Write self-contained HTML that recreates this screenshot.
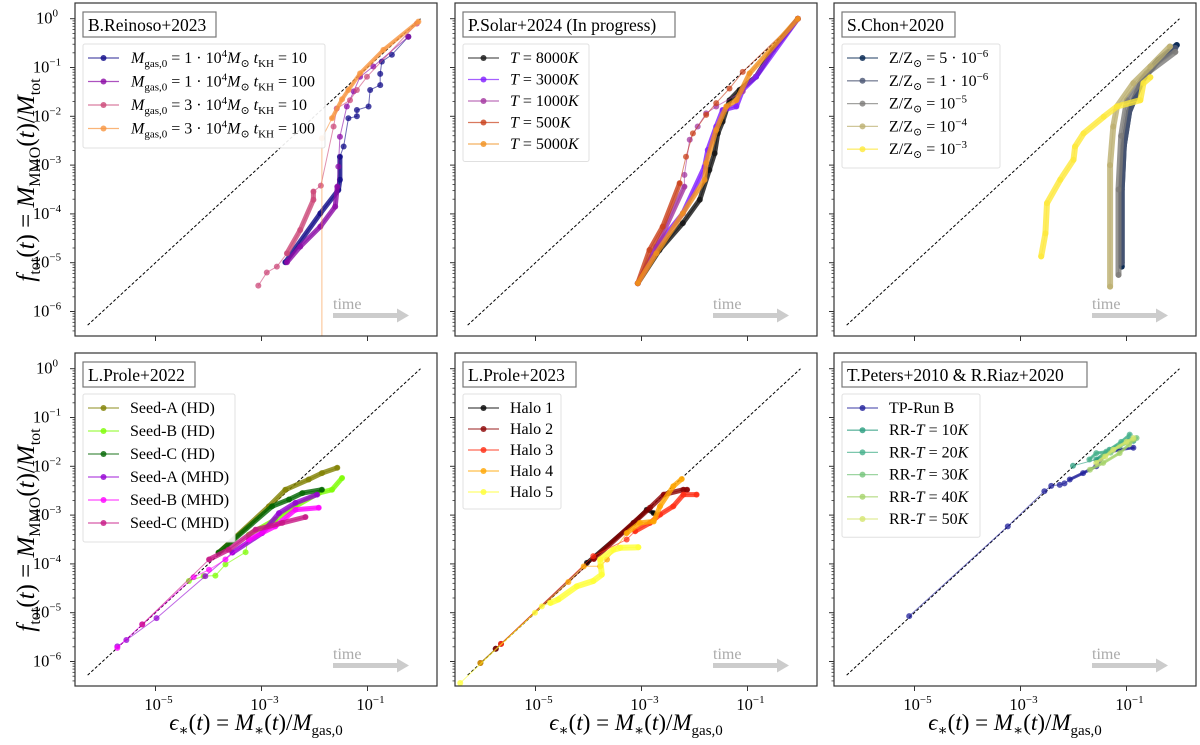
<!DOCTYPE html>
<html><head><meta charset="utf-8">
<style>
body{margin:0;background:#fff;}
svg{display:block;font-family:"Liberation Serif","DejaVu Serif",serif;}
</style></head>
<body>
<svg id="fig" width="1200" height="745" viewBox="0 0 1200 745" xmlns="http://www.w3.org/2000/svg">
<defs>
<clipPath id="c0"><rect x="75" y="3" width="362" height="333"/></clipPath>
<clipPath id="c1"><rect x="455" y="3" width="362" height="333"/></clipPath>
<clipPath id="c2"><rect x="834" y="3" width="362" height="333"/></clipPath>
<clipPath id="c3"><rect x="75" y="353" width="362" height="333"/></clipPath>
<clipPath id="c4"><rect x="455" y="353" width="362" height="333"/></clipPath>
<clipPath id="c5"><rect x="834" y="353" width="362" height="333"/></clipPath>
</defs>
</svg>
<script>
// ---- data (log10 values) ----
// Panel 1: B.Reinoso+2023
const p1s1x = [-2.55,-1.89,-1.55,-1.52,-1.52,-1.45,-1.36,-1.2,-1.2,-0.98,-0.95,-0.76,-0.76,-0.73,-0.54,-0.23];
const p1s1y = [-4.99,-3.99,-3.51,-3.30,-2.83,-2.62,-2.04,-2.0,-1.87,-1.80,-1.46,-1.36,-1.13,-0.88,-0.74,-0.37];
const p1s2x = [-2.52,-2.27,-1.89,-1.61,-1.57,-1.55,-1.52,-1.39,-1.26,-1.14,-0.89,-0.23];
const p1s2y = [-4.99,-4.67,-4.26,-3.85,-3.44,-3.03,-2.42,-1.80,-1.49,-1.19,-0.98,-0.37];
const p1s3x = [-3.06,-2.90,-2.71,-2.52,-2.27,-2.02,-2.02,-1.88,-1.64,-1.58,-1.33,-1.20,-1.01,-0.07];
const p1s3y = [-5.47,-5.20,-5.08,-4.81,-4.33,-3.71,-3.54,-3.42,-2.21,-1.84,-1.67,-1.46,-1.19,-0.10];
const p1s4x = [-1.86,-1.86,-1.67,-1.48,-1.36,-1.14,-0.70,-0.04];
const p1s4y = [-7.5,-2.45,-2.04,-1.65,-1.46,-1.12,-0.64,-0.06];
// Panel 2: P.Solar+2024
const p2s1x = [-3.07,-2.66,-2.22,-1.90,-1.72,-1.62,-1.56,-1.47,-1.34,-1.15,-0.84,-0.52,-0.05];
const p2s1y = [-5.42,-4.74,-4.19,-3.71,-3.10,-2.76,-2.35,-2.11,-1.67,-1.46,-1.19,-0.64,0];
const p2s2x = [-3.07,-2.72,-2.22,-1.81,-1.75,-1.59,-1.47,-1.21,-1.09,-0.84,-0.05];
const p2s2y = [-5.42,-4.67,-3.99,-3.03,-2.69,-2.21,-1.87,-1.80,-1.46,-1.19,0];
const p2s3x = [-3.07,-2.80,-2.19,-2.19,-2.09,-1.94,-1.78,-1.59,-1.09,-0.05];
const p2s3y = [-5.42,-4.88,-3.44,-3.20,-2.48,-2.21,-1.94,-1.80,-1.49,0];
const p2s4x = [-3.07,-2.85,-2.60,-2.28,-2.16,-2.03,-1.78,-1.59,-1.34,-1.09,-0.05];
const p2s4y = [-5.42,-4.74,-4.26,-3.37,-2.83,-2.35,-1.97,-1.73,-1.43,-1.09,0];
const p2s5x = [-3.07,-2.72,-2.22,-1.81,-1.78,-1.59,-1.40,-1.21,-0.96,-0.05];
const p2s5y = [-5.42,-4.81,-3.99,-3.30,-2.96,-2.28,-1.80,-1.67,-1.12,0];
// Panel 3: S.Chon+2020
const p3s1x = [-1.09,-1.09,-1.05,-0.95,-0.70,-0.40,-0.05];
const p3s1y = [-5.08,-3.50,-2.60,-1.90,-1.25,-0.85,-0.54];
const p3s2x = [-1.09,-1.09,-1.05,-0.95,-0.70,-0.40,-0.08];
const p3s2y = [-5.00,-3.50,-2.60,-1.90,-1.25,-0.85,-0.60];
const p3s3x = [-1.15,-1.15,-1.10,-0.99,-0.62,-0.08];
const p3s3y = [-5.25,-3.50,-2.40,-1.67,-1.12,-0.68];
const p3s4x = [-1.31,-1.31,-1.25,-1.18,-0.87,-0.55,-0.18];
const p3s4y = [-5.49,-3.00,-2.21,-1.80,-1.32,-0.98,-0.57];
const p3s5x = [-2.61,-2.53,-2.50,-2.25,-2.00,-1.97,-1.81,-1.43,-1.18,-0.74,-0.68,-0.55];
const p3s5y = [-4.87,-4.40,-3.78,-3.30,-2.89,-2.62,-2.35,-2.01,-1.80,-1.67,-1.32,-1.20];
// Panel 4: L.Prole+2022
const p4s1x = [-3.81,-2.86,-2.55,-2.11,-1.86,-1.57];
const p4s1y = [-3.77,-2.82,-2.48,-2.27,-2.14,-2.03];
const p4s2x = [-4.37,-4.09,-3.87,-3.68,-3.30,-3.24,-2.74,-2.36,-1.92,-1.67,-1.48];
const p4s2y = [-4.35,-4.25,-4.24,-4.01,-3.76,-3.40,-3.09,-2.82,-2.55,-2.48,-2.24];
const p4s3x = [-3.81,-2.80,-2.48,-2.23,-1.86];
const p4s3y = [-3.77,-2.82,-2.68,-2.55,-2.48];
const p4s4x = [-5.72,-5.55,-4.98,-4.06,-3.55,-2.99,-2.67,-2.36,-1.95];
const p4s4y = [-5.69,-5.56,-5.11,-4.25,-3.77,-3.37,-2.96,-2.75,-2.58];
const p4s5x = [-5.72,-5.25,-4.28,-3.99,-3.68,-3.24,-2.74,-2.36,-1.92];
const p4s5y = [-5.72,-5.24,-4.27,-4.12,-3.91,-3.50,-3.23,-2.89,-2.85];
const p4s6x = [-5.25,-3.99,-3.62,-3.11,-2.61,-2.17];
const p4s6y = [-5.24,-3.91,-3.71,-3.30,-3.16,-3.04];
// Panel 5: L.Prole+2023
const p5s1x = [-6.04,-5.75,-4.03,-3.15,-2.90,-2.77];
const p5s1y = [-6.03,-5.74,-3.98,-3.16,-2.89,-2.96];
const p5s2x = [-5.75,-5.65,-3.90,-2.84,-2.58,-2.21,-2.14];
const p5s2y = [-5.74,-5.64,-3.90,-2.85,-2.58,-2.48,-2.48];
const p5s3x = [-5.65,-3.91,-3.28,-3.12,-2.84,-2.65,-2.40,-2.21,-1.96];
const p5s3y = [-5.64,-3.84,-3.50,-3.33,-3.16,-2.99,-2.82,-2.58,-2.58];
const p5s4x = [-6.04,-4.38,-4.09,-3.78,-3.65,-3.28,-3.03,-2.77,-2.65,-2.40,-2.24];
const p5s4y = [-6.03,-4.37,-4.05,-4.05,-3.91,-3.37,-3.16,-3.13,-2.82,-2.41,-2.26];
const p5s5x = [-6.42,-5.01,-4.88,-4.72,-4.57,-4.22,-3.91,-3.75,-3.78,-3.53,-3.40,-3.06];
const p5s5y = [-6.44,-5.00,-4.87,-4.80,-4.73,-4.46,-4.35,-4.22,-3.91,-3.71,-3.67,-3.66];
// Panel 6: T.Peters+2010 & R.Riaz+2020
const p6s1x = [-5.10,-3.24,-2.55,-2.42,-2.26,-2.17,-2.07,-1.82,-1.57,-1.38,-1.13,-0.87];
const p6s1y = [-5.07,-3.23,-2.51,-2.40,-2.38,-2.35,-2.27,-2.14,-2.00,-1.73,-1.66,-1.62];
const p6s2x = [-2.01,-1.57,-1.32,-0.94,-0.87];
const p6s2y = [-1.99,-1.86,-1.66,-1.45,-1.48];
const p6s3x = [-1.70,-1.57,-1.38,-1.10,-0.94];
const p6s3y = [-1.86,-1.73,-1.70,-1.50,-1.35];
const p6s4x = [-1.44,-1.30,-1.13,-0.95,-0.81];
const p6s4y = [-1.80,-1.72,-1.59,-1.50,-1.42];
const p6s5x = [-1.69,-1.44,-1.13,-0.95,-0.87];
const p6s5y = [-2.07,-1.93,-1.73,-1.55,-1.45];
const p6s6x = [-1.57,-1.40,-1.25,-1.00,-0.87];
const p6s6y = [-1.93,-1.80,-1.66,-1.50,-1.42];
// axis ticks
const yTickExps = [0,-1,-2,-3,-4,-5,-6];
const xTickExps = [-5,-3,-1];

const NS="http://www.w3.org/2000/svg";
const svg=document.getElementById('fig');
const lefts=[75,455,834], tops=[3,353], W=362, H=333;
function mk(tag,attrs,parent){const e=document.createElementNS(NS,tag);for(const k in attrs)e.setAttribute(k,attrs[k]);(parent||svg).appendChild(e);return e;}
function xs(p,lx){return lefts[p%3]+80.5+(lx+5)*53;}
function ys(p,ly){return tops[Math.floor(p/3)]+15.7-ly*48.8;}

// style: c colour, w thick width, a/b = index range drawn thick
const panels=[
 {title:"B.Reinoso+2023",tw:133,series:[
  {x:p1s1x,y:p1s1y,c:"#0d0887",w:5,a:0,b:4,name:"mgas1e4-tkh10"},
  {x:p1s2x,y:p1s2y,c:"#8b0aa5",w:5,a:0,b:4,name:"mgas1e4-tkh100"},
  {x:p1s3x,y:p1s3y,c:"#cc4778",w:5,a:3,b:6,name:"mgas3e4-tkh10"},
  {x:p1s4x,y:p1s4y,c:"#f89540",w:4,a:2,b:7,name:"mgas3e4-tkh100"}]},
 {title:"P.Solar+2024 (In progress)",tw:212,series:[
  {x:p2s1x,y:p2s1y,c:"#111111",w:5,a:0,b:99,name:"t8000k"},
  {x:p2s2x,y:p2s2y,c:"#7f1cff",w:5,a:0,b:99,name:"t3000k"},
  {x:p2s3x,y:p2s3y,c:"#a3359f",w:5,a:0,b:2,name:"t1000k"},
  {x:p2s4x,y:p2s4y,c:"#c9401a",w:5,a:0,b:3,name:"t500k"},
  {x:p2s5x,y:p2s5y,c:"#f0901e",w:5,a:0,b:99,name:"t5000k"}]},
 {title:"S.Chon+2020",tw:113,series:[
  {x:p3s1x,y:p3s1y,c:"#00224e",w:6,a:0,b:99,name:"z5e-6"},
  {x:p3s2x,y:p3s2y,c:"#4a5573",w:6,a:0,b:99,name:"z1e-6"},
  {x:p3s3x,y:p3s3y,c:"#7c7b78",w:6,a:0,b:99,name:"z1e-5"},
  {x:p3s4x,y:p3s4y,c:"#bcaf6f",w:6,a:0,b:99,name:"z1e-4"},
  {x:p3s5x,y:p3s5y,c:"#fee838",w:6,a:0,b:99,name:"z1e-3"}]},
 {title:"L.Prole+2022",tw:112,series:[
  {x:p4s1x,y:p4s1y,c:"#808000",w:5,a:0,b:99,name:"seed-a-hd"},
  {x:p4s2x,y:p4s2y,c:"#7cfc00",w:5,a:5,b:99,name:"seed-b-hd"},
  {x:p4s3x,y:p4s3y,c:"#006400",w:5,a:0,b:99,name:"seed-c-hd"},
  {x:p4s4x,y:p4s4y,c:"#9400d3",w:5,a:4,b:99,name:"seed-a-mhd"},
  {x:p4s5x,y:p4s5y,c:"#ff00ff",w:5,a:5,b:99,name:"seed-b-mhd"},
  {x:p4s6x,y:p4s6y,c:"#c71585",w:5,a:1,b:99,name:"seed-c-mhd"}]},
 {title:"L.Prole+2023",tw:113,series:[
  {x:p5s1x,y:p5s1y,c:"#000000",w:4,a:2,b:99,name:"halo-1"},
  {x:p5s2x,y:p5s2y,c:"#8b0000",w:5,a:2,b:99,name:"halo-2"},
  {x:p5s3x,y:p5s3y,c:"#ff2a10",w:5,a:3,b:99,name:"halo-3"},
  {x:p5s4x,y:p5s4y,c:"#ffa500",w:5,a:5,b:99,name:"halo-4"},
  {x:p5s5x,y:p5s5y,c:"#ffff33",w:6,a:3,b:99,name:"halo-5"}]},
 {title:"T.Peters+2010 & R.Riaz+2020",tw:245,series:[
  {x:p6s1x,y:p6s1y,c:"#1f1f9a",w:3,a:6,b:99,name:"tp-run-b"},
  {x:p6s2x,y:p6s2y,c:"#2a9d7f",w:3,a:1,b:99,name:"rr-10k"},
  {x:p6s3x,y:p6s3y,c:"#45b08b",w:3,a:0,b:99,name:"rr-20k"},
  {x:p6s4x,y:p6s4y,c:"#74c47a",w:3,a:0,b:99,name:"rr-30k"},
  {x:p6s5x,y:p6s5y,c:"#a5d36a",w:3,a:0,b:99,name:"rr-40k"},
  {x:p6s6x,y:p6s6y,c:"#d4e56e",w:3,a:0,b:99,name:"rr-50k"}]}
];

const legendLabels=[
 ['<tspan font-style="italic">M</tspan><tspan font-size="11" dy="4">gas,0</tspan><tspan dy="-4"> = 1 · 10</tspan><tspan font-size="11" dy="-6">4</tspan><tspan dy="6" font-style="italic">M</tspan><tspan font-size="11" dy="4">⊙</tspan><tspan dy="-4" font-style="italic"> t</tspan><tspan font-size="11" dy="4">KH</tspan><tspan dy="-4"> = 10</tspan>',
  '<tspan font-style="italic">M</tspan><tspan font-size="11" dy="4">gas,0</tspan><tspan dy="-4"> = 1 · 10</tspan><tspan font-size="11" dy="-6">4</tspan><tspan dy="6" font-style="italic">M</tspan><tspan font-size="11" dy="4">⊙</tspan><tspan dy="-4" font-style="italic"> t</tspan><tspan font-size="11" dy="4">KH</tspan><tspan dy="-4"> = 100</tspan>',
  '<tspan font-style="italic">M</tspan><tspan font-size="11" dy="4">gas,0</tspan><tspan dy="-4"> = 3 · 10</tspan><tspan font-size="11" dy="-6">4</tspan><tspan dy="6" font-style="italic">M</tspan><tspan font-size="11" dy="4">⊙</tspan><tspan dy="-4" font-style="italic"> t</tspan><tspan font-size="11" dy="4">KH</tspan><tspan dy="-4"> = 10</tspan>',
  '<tspan font-style="italic">M</tspan><tspan font-size="11" dy="4">gas,0</tspan><tspan dy="-4"> = 3 · 10</tspan><tspan font-size="11" dy="-6">4</tspan><tspan dy="6" font-style="italic">M</tspan><tspan font-size="11" dy="4">⊙</tspan><tspan dy="-4" font-style="italic"> t</tspan><tspan font-size="11" dy="4">KH</tspan><tspan dy="-4"> = 100</tspan>'],
 ['<tspan font-style="italic">T</tspan> = 8000<tspan font-style="italic">K</tspan>','<tspan font-style="italic">T</tspan> = 3000<tspan font-style="italic">K</tspan>','<tspan font-style="italic">T</tspan> = 1000<tspan font-style="italic">K</tspan>','<tspan font-style="italic">T</tspan> = 500<tspan font-style="italic">K</tspan>','<tspan font-style="italic">T</tspan> = 5000<tspan font-style="italic">K</tspan>'],
 ['Z/Z<tspan font-size="11" dy="4">⊙</tspan><tspan dy="-4"> = 5 · 10</tspan><tspan font-size="11" dy="-6">−6</tspan>','Z/Z<tspan font-size="11" dy="4">⊙</tspan><tspan dy="-4"> = 1 · 10</tspan><tspan font-size="11" dy="-6">−6</tspan>','Z/Z<tspan font-size="11" dy="4">⊙</tspan><tspan dy="-4"> = 10</tspan><tspan font-size="11" dy="-6">−5</tspan>','Z/Z<tspan font-size="11" dy="4">⊙</tspan><tspan dy="-4"> = 10</tspan><tspan font-size="11" dy="-6">−4</tspan>','Z/Z<tspan font-size="11" dy="4">⊙</tspan><tspan dy="-4"> = 10</tspan><tspan font-size="11" dy="-6">−3</tspan>'],
 ['Seed-A (HD)','Seed-B (HD)','Seed-C (HD)','Seed-A (MHD)','Seed-B (MHD)','Seed-C (MHD)'],
 ['Halo 1','Halo 2','Halo 3','Halo 4','Halo 5'],
 ['TP-Run B','RR-<tspan font-style="italic">T</tspan> = 10<tspan font-style="italic">K</tspan>','RR-<tspan font-style="italic">T</tspan> = 20<tspan font-style="italic">K</tspan>','RR-<tspan font-style="italic">T</tspan> = 30<tspan font-style="italic">K</tspan>','RR-<tspan font-style="italic">T</tspan> = 40<tspan font-style="italic">K</tspan>','RR-<tspan font-style="italic">T</tspan> = 50<tspan font-style="italic">K</tspan>']
];
const legendW=[242,126,158,152,98,138];
const legendSp=[23.5,21.5,22.8,23,21,22.2];

panels.forEach((P,p)=>{
  const L=lefts[p%3], T=tops[Math.floor(p/3)];
  const g=mk('g',{});
  
  
  const d=mk('line',{x1:xs(p,-6.28),y1:ys(p,-6.28),x2:xs(p,0),y2:ys(p,0),stroke:'#000','stroke-width':1,'stroke-dasharray':'3,2'},g);
  
  
  const sg=mk('g',{'clip-path':'url(#c'+p+')'},g);
  P.series.forEach(s=>{
    const pt=s.x.map((v,i)=>xs(p,v).toFixed(1)+','+ys(p,s.y[i]).toFixed(1));
    const ser=mk('g',{},sg);
    
    
    const thick=pt.slice(s.a,Math.min(s.b,pt.length-1)+1);
    if(thick.length>1) mk('polyline',{points:thick.join(' '),fill:'none',stroke:s.c,'stroke-width':s.w,'stroke-linejoin':'round','stroke-linecap':'round',opacity:0.8},ser);
    mk('polyline',{points:pt.join(' '),fill:'none',stroke:s.c,'stroke-width':1,opacity:0.6},ser);
    s.x.forEach((v,i)=>{
      const c=mk('circle',{cx:xs(p,v),cy:ys(p,s.y[i]),r:3,fill:s.c,opacity:0.75},ser);
      
      
    });
  });
  const fr=mk('rect',{x:L,y:T,width:W,height:H,fill:'none',stroke:'#333','stroke-width':1.2},g);
  
  
  for(let e=0;e>=-7;e--){
    if(e<=0 && e>=-6){mk('line',{x1:L-5,x2:L,y1:ys(p,e),y2:ys(p,e),stroke:'#333','stroke-width':1},g);}
    for(let m=2;m<10;m++){const yy=ys(p,e-1+Math.log10(m));if(yy>T&&yy<T+H)mk('line',{x1:L-2.5,x2:L,y1:yy,y2:yy,stroke:'#333','stroke-width':0.8},g);}
  }
  xTickExps.forEach(e=>mk('line',{x1:xs(p,e),x2:xs(p,e),y1:T+H,y2:T+H+5,stroke:'#333','stroke-width':1},g));
  if(p%3===0){
    yTickExps.forEach(e=>{
      const t=mk('text',{x:L-28,y:ys(p,e)+5,'font-size':16.5,'text-anchor':'middle'},g);
      t.innerHTML='10<tspan font-size="11" dy="-7">'+(e===0?'0':'−'+(-e))+'</tspan>';
      
      
    });
  }
  if(p>=3){
    xTickExps.forEach(e=>{
      const t=mk('text',{x:xs(p,e)+3,y:T+H+24,'font-size':16.5,'text-anchor':'middle'},g);
      t.innerHTML='10<tspan font-size="11" dy="-7">−'+(-e)+'</tspan>';
      
      
    });
  }
  const tb=mk('g',{},g);
  
  
  mk('rect',{x:L+8,y:T+9,width:P.tw,height:25,fill:'#fff',stroke:'#777','stroke-width':1.2},tb);
  const tt=mk('text',{x:L+13,y:T+28,'font-size':17.5},tb);
  tt.textContent=P.title;
  const lg=mk('g',{},g);
  
  
  const n=P.series.length, sp=legendSp[p];
  mk('rect',{x:L+8,y:T+41,width:legendW[p],height:sp*n+10,fill:'#fff',stroke:'#ddd','stroke-width':1,rx:2,opacity:0.9},lg);
  P.series.forEach((s,i)=>{
    const yy=T+55+i*sp;
    const le=mk('g',{},lg);
    
    
    mk('line',{x1:L+13,x2:L+44,y1:yy,y2:yy,stroke:s.c,'stroke-width':1.3,opacity:0.7},le);
    mk('circle',{cx:L+28.5,cy:yy,r:3,fill:s.c,opacity:0.8},le);
    const t=mk('text',{x:L+(p===0?56:55),y:yy+5,'font-size':16},le);
    t.innerHTML=legendLabels[p][i];
  });
  const ta=mk('g',{},g);
  
  
  const tx=mk('text',{x:L+258,y:T+306,'font-size':16,fill:'#aaa'},ta);
  tx.textContent='time';
  mk('rect',{x:L+258,y:T+310,width:64,height:5,fill:'#ccc'},ta);
  mk('polygon',{points:(L+322)+','+(T+305.5)+' '+(L+334)+','+(T+312.5)+' '+(L+322)+','+(T+319.5),fill:'#ccc'},ta);
});

[180,530].forEach(cy=>{
  const t=mk('text',{x:0,y:0,'font-size':25,'text-anchor':'middle',transform:'translate(34,'+cy+') rotate(-90)'});
  t.innerHTML='<tspan font-style="italic">f</tspan><tspan font-size="16" dy="6">tot</tspan><tspan dy="-6">(</tspan><tspan font-style="italic">t</tspan>) = <tspan font-style="italic">M</tspan><tspan font-size="16" dy="6">MMO</tspan><tspan dy="-6">(</tspan><tspan font-style="italic">t</tspan>)/<tspan font-style="italic">M</tspan><tspan font-size="16" dy="6">tot</tspan>';
  
  
});
[256,636,1015].forEach(cx=>{
  const t=mk('text',{x:cx,y:730,'font-size':23,'text-anchor':'middle'});
  t.innerHTML='<tspan font-style="italic">ϵ</tspan><tspan font-size="15" dy="5">∗</tspan><tspan dy="-5">(</tspan><tspan font-style="italic">t</tspan>) = <tspan font-style="italic">M</tspan><tspan font-size="15" dy="5">∗</tspan><tspan dy="-5">(</tspan><tspan font-style="italic">t</tspan>)/<tspan font-style="italic">M</tspan><tspan font-size="15" dy="5">gas,0</tspan>';
  
  
});
</script>
</body></html>
